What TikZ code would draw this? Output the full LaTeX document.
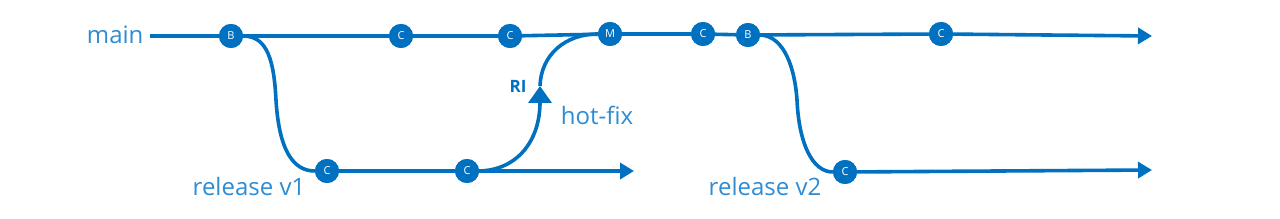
\documentclass[tikz,border=0pt]{standalone}
\usepackage{fontspec}
\setmainfont{Open Sans}
\usetikzlibrary{arrows.meta}
\definecolor{gblue}{RGB}{0,112,192}
\definecolor{lblue}{RGB}{45,140,212}
\tikzset{
  commit/.style={circle,fill=gblue,minimum size=24pt,inner sep=0pt,text=white,font=\fontsize{11}{11}\selectfont},
  branch/.style={draw=gblue,line width=3.6pt},
  tipped/.style={branch,-{Triangle[length=14pt,width=16pt]}},
  bigtip/.style={branch,-{Triangle[length=17pt,width=23pt]}},
  lbl/.style={text=lblue,font=\fontsize{24}{26}\selectfont},
}
\begin{document}
\begin{tikzpicture}[x=1pt,y=-1pt]
\useasboundingbox (0,0) rectangle (1280,219);
% coordinates
\coordinate (mstart) at (150,36);
\coordinate (mend) at (1152,36);
\coordinate (r1end) at (634,171);
\coordinate (r2end) at (1152,170);
\coordinate (ri) at (540,86);
% labels
\node[lbl,anchor=east] (mainlbl) at (147,35) {main};
\node[lbl] (r1lbl) at (249,186) {release v1};
\node[lbl] (r2lbl) at (765,186) {release v2};
\node[lbl] (hflbl) at (597,115) {hot-fix};
\node[text=gblue,font=\bfseries\fontsize{17}{17}\selectfont] (rilbl) at (518,86) {RI};
% commits
\node[commit] (b1) at (231,36) {B};
\node[commit] (c1) at (401,36) {C};
\node[commit] (c2) at (510,36) {C};
\node[commit] (m) at (610,34) {M};
\node[commit] (c3) at (703,34) {C};
\node[commit] (b2) at (748,35) {B};
\node[commit] (c4) at (941,34) {C};
\node[commit] (r1a) at (327,171) {C};
\node[commit] (r1b) at (467,171) {C};
\node[commit] (r2a) at (845,172) {C};
% main line
\draw[branch] (mstart) -- (b1) -- (c1) -- (c2) -- (m) -- (c3) -- (b2) -- (c4);
\draw[tipped] (c4) -- (mend);
% release v1
\draw[branch] (b1.east) .. controls (268,36) and (274,62) .. (276,100) .. controls (279,150) and (293,171) .. (r1a.west);
\draw[branch] (r1a) -- (r1b);
\draw[tipped] (r1b) -- (r1end);
% hot-fix merge
\draw[bigtip] (r1b.east) .. controls (518,170) and (540,140) .. (ri);
\draw[branch] (ri) .. controls (541,55) and (565,34) .. (m.west);
% release v2
\draw[branch] (b2.east) .. controls (785,36) and (795,70) .. (797,100) .. controls (799,145) and (813,172) .. (r2a.west);
\draw[tipped] (r2a) -- (r2end);
% redraw commits on top
\foreach \n/\t in {b1/B,c1/C,c2/C,m/M,c3/C,b2/B,c4/C,r1a/C,r1b/C,r2a/C}
  \node[commit] at (\n) {\t};
\end{tikzpicture}
\end{document}
